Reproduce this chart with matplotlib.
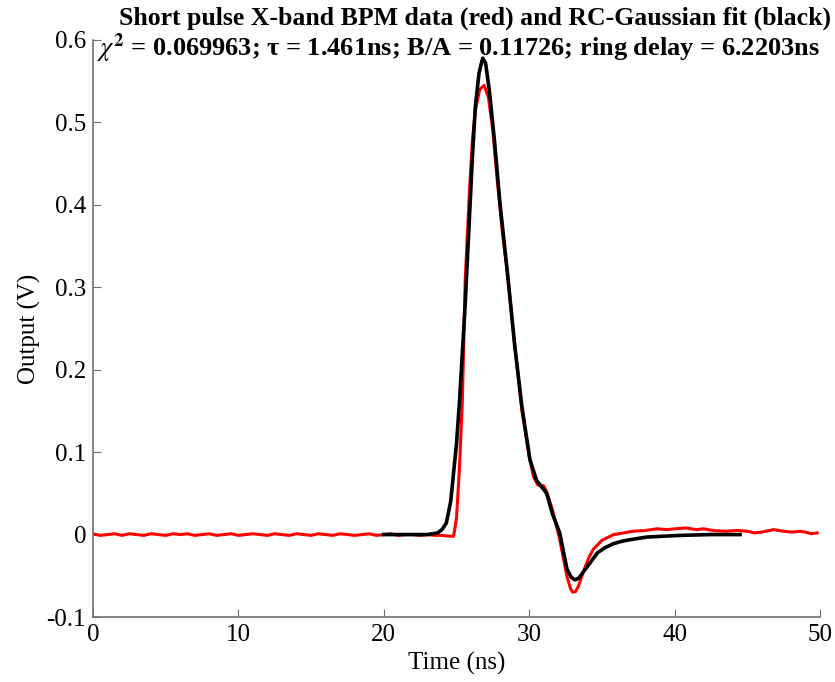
import matplotlib
matplotlib.use("Agg")
import matplotlib.pyplot as plt
import numpy as np

# Measured data (red): baseline portion, time in ns, output in V
red_base_t = [0.0, 0.5, 1.0, 1.5, 2.0, 2.5, 3.0, 3.5, 4.0, 4.5, 5.0, 5.5, 6.0, 6.5, 7.0, 7.5,
              8.0, 8.5, 9.0, 9.5, 10.0, 10.5, 11.0, 11.5, 12.0, 12.5, 13.0, 13.5, 14.0, 14.5,
              15.0, 15.5, 16.0, 16.5, 17.0, 17.5, 18.0, 18.5, 19.0, 19.5, 20.0, 20.5, 21.0,
              21.5, 22.0, 22.5, 23.0, 23.5, 24.0, 24.5]
red_base_v = [0.001, -0.001, 0.0, 0.001, -0.001, 0.001, 0.0, -0.001, 0.001, 0.0, -0.001, 0.001,
              0.0, 0.001, -0.001, 0.0, 0.001, -0.001, 0.0, 0.001, -0.001, 0.0, 0.001, 0.0,
              -0.001, 0.001, 0.0, -0.001, 0.001, 0.0, -0.001, 0.001, 0.0, -0.001, 0.001, 0.0,
              -0.001, 0.0, 0.001, -0.001, 0.0, 0.001, -0.001, 0.0, 0.0, -0.001, 0.0, -0.001,
              -0.001, -0.002]
# Measured data (red): pulse and tail
red_pulse_t = [24.8, 25.0, 25.2, 25.4, 25.6, 25.9, 26.1, 26.3, 26.6, 26.9, 27.2, 27.5, 27.8,
               28.2, 28.5, 29.0, 29.5, 30.0, 30.3, 30.6, 31.0, 31.2, 31.6, 32.1, 32.6, 32.85,
               33.0, 33.2, 33.4, 33.7, 34.1, 34.4, 35.0, 35.8, 36.5, 37.1, 38.0, 38.8, 39.5,
               40.0, 40.8, 41.5, 42.0, 42.6, 43.5, 44.3, 45.0, 45.5, 46.0, 46.8, 47.5, 48.1,
               48.6, 49.0, 49.4, 49.8]
red_pulse_v = [-0.002, 0.02, 0.08, 0.16, 0.31, 0.42, 0.48, 0.515, 0.54, 0.545, 0.53, 0.49,
               0.43, 0.36, 0.318, 0.23, 0.15, 0.095, 0.07, 0.06, 0.059, 0.052, 0.030, -0.006,
               -0.051, -0.066, -0.070, -0.069, -0.062, -0.046, -0.028, -0.018, -0.007, 0.0,
               0.002, 0.004, 0.005, 0.007, 0.006, 0.007, 0.008, 0.006, 0.007, 0.005, 0.004,
               0.005, 0.004, 0.002, 0.003, 0.006, 0.004, 0.003, 0.004, 0.003, 0.001, 0.002]

# RC-Gaussian fit (black)
fit_t = [20.0, 23.0, 23.7, 24.0, 24.3, 24.6, 25.0, 25.2, 25.6, 26.1, 26.3, 26.55, 26.8,
         27.0, 27.25, 27.6, 28.0, 28.5, 29.0, 29.5, 30.05, 30.5, 31.2, 31.6, 32.1, 32.6,
         32.9, 33.15, 33.4, 33.7, 34.2, 34.7, 35.2, 35.8, 36.4, 37.0, 38.1, 39.2, 40.4,
         42.5, 44.5]
fit_v = [0.0, 0.0, 0.002, 0.006, 0.014, 0.04, 0.11, 0.16, 0.28, 0.46, 0.52, 0.56, 0.578,
         0.572, 0.54, 0.48, 0.40, 0.318, 0.23, 0.155, 0.091, 0.066, 0.050, 0.025, 0.002,
         -0.042, -0.052, -0.055, -0.053, -0.046, -0.034, -0.022, -0.016, -0.011, -0.008,
         -0.006, -0.003, -0.002, -0.001, 0.0, 0.0]

title_line1 = "Short pulse X-band BPM data (red) and RC-Gaussian fit (black)"
title_line2 = r"$\chi^{\mathbf{2}}$ = 0.069963; τ = 1.461ns; B/A = 0.11726; ring delay = 6.2203ns"
x_ticks = [0, 10, 20, 30, 40, 50]
y_ticks = [-0.1, 0, 0.1, 0.2, 0.3, 0.4, 0.5, 0.6]
y_ticklabels = ["-0.1", "0", "0.1", "0.2", "0.3", "0.4", "0.5", "0.6"]

plt.rcParams['font.family'] = ['Liberation Serif', 'DejaVu Serif']
plt.rcParams['mathtext.fontset'] = 'stix'

fig = plt.figure(figsize=(8.35, 6.82), dpi=100)
ax = fig.add_axes([93/835, 1-617/682, (820-93)/835, (617-40)/682])

red_t = red_base_t + red_pulse_t
red_v = red_base_v + red_pulse_v
ax.plot(red_t, red_v, color='#ff0000', lw=2.2, solid_joinstyle='round')
ax.plot(fit_t, fit_v, color='black', lw=2.6, solid_joinstyle='round')

ax.set_xlim(0, 50)
ax.set_ylim(-0.1, 0.6)
ax.set_xticks(x_ticks)
ax.set_yticks(y_ticks)
ax.set_yticklabels(y_ticklabels)
for s in ['top', 'right']:
    ax.spines[s].set_visible(False)
for s in ['left', 'bottom']:
    ax.spines[s].set_color('#707070')
    ax.spines[s].set_linewidth(1.2)
ax.tick_params(direction='in', length=6, color='#707070', labelsize=18, pad=5)
ax.set_xlabel("Time (ns)", fontsize=18, labelpad=4)
ax.set_ylabel("Output (V)", fontsize=18, labelpad=4)

fig.text(475/835, 1-18/682, title_line1, ha='center', va='center',
         fontsize=18.5, fontweight='bold')
fig.text(458/835, 1-48/682, title_line2, ha='center', va='center',
         fontsize=19, fontweight='bold')

fig.savefig("out.png", dpi=100)
